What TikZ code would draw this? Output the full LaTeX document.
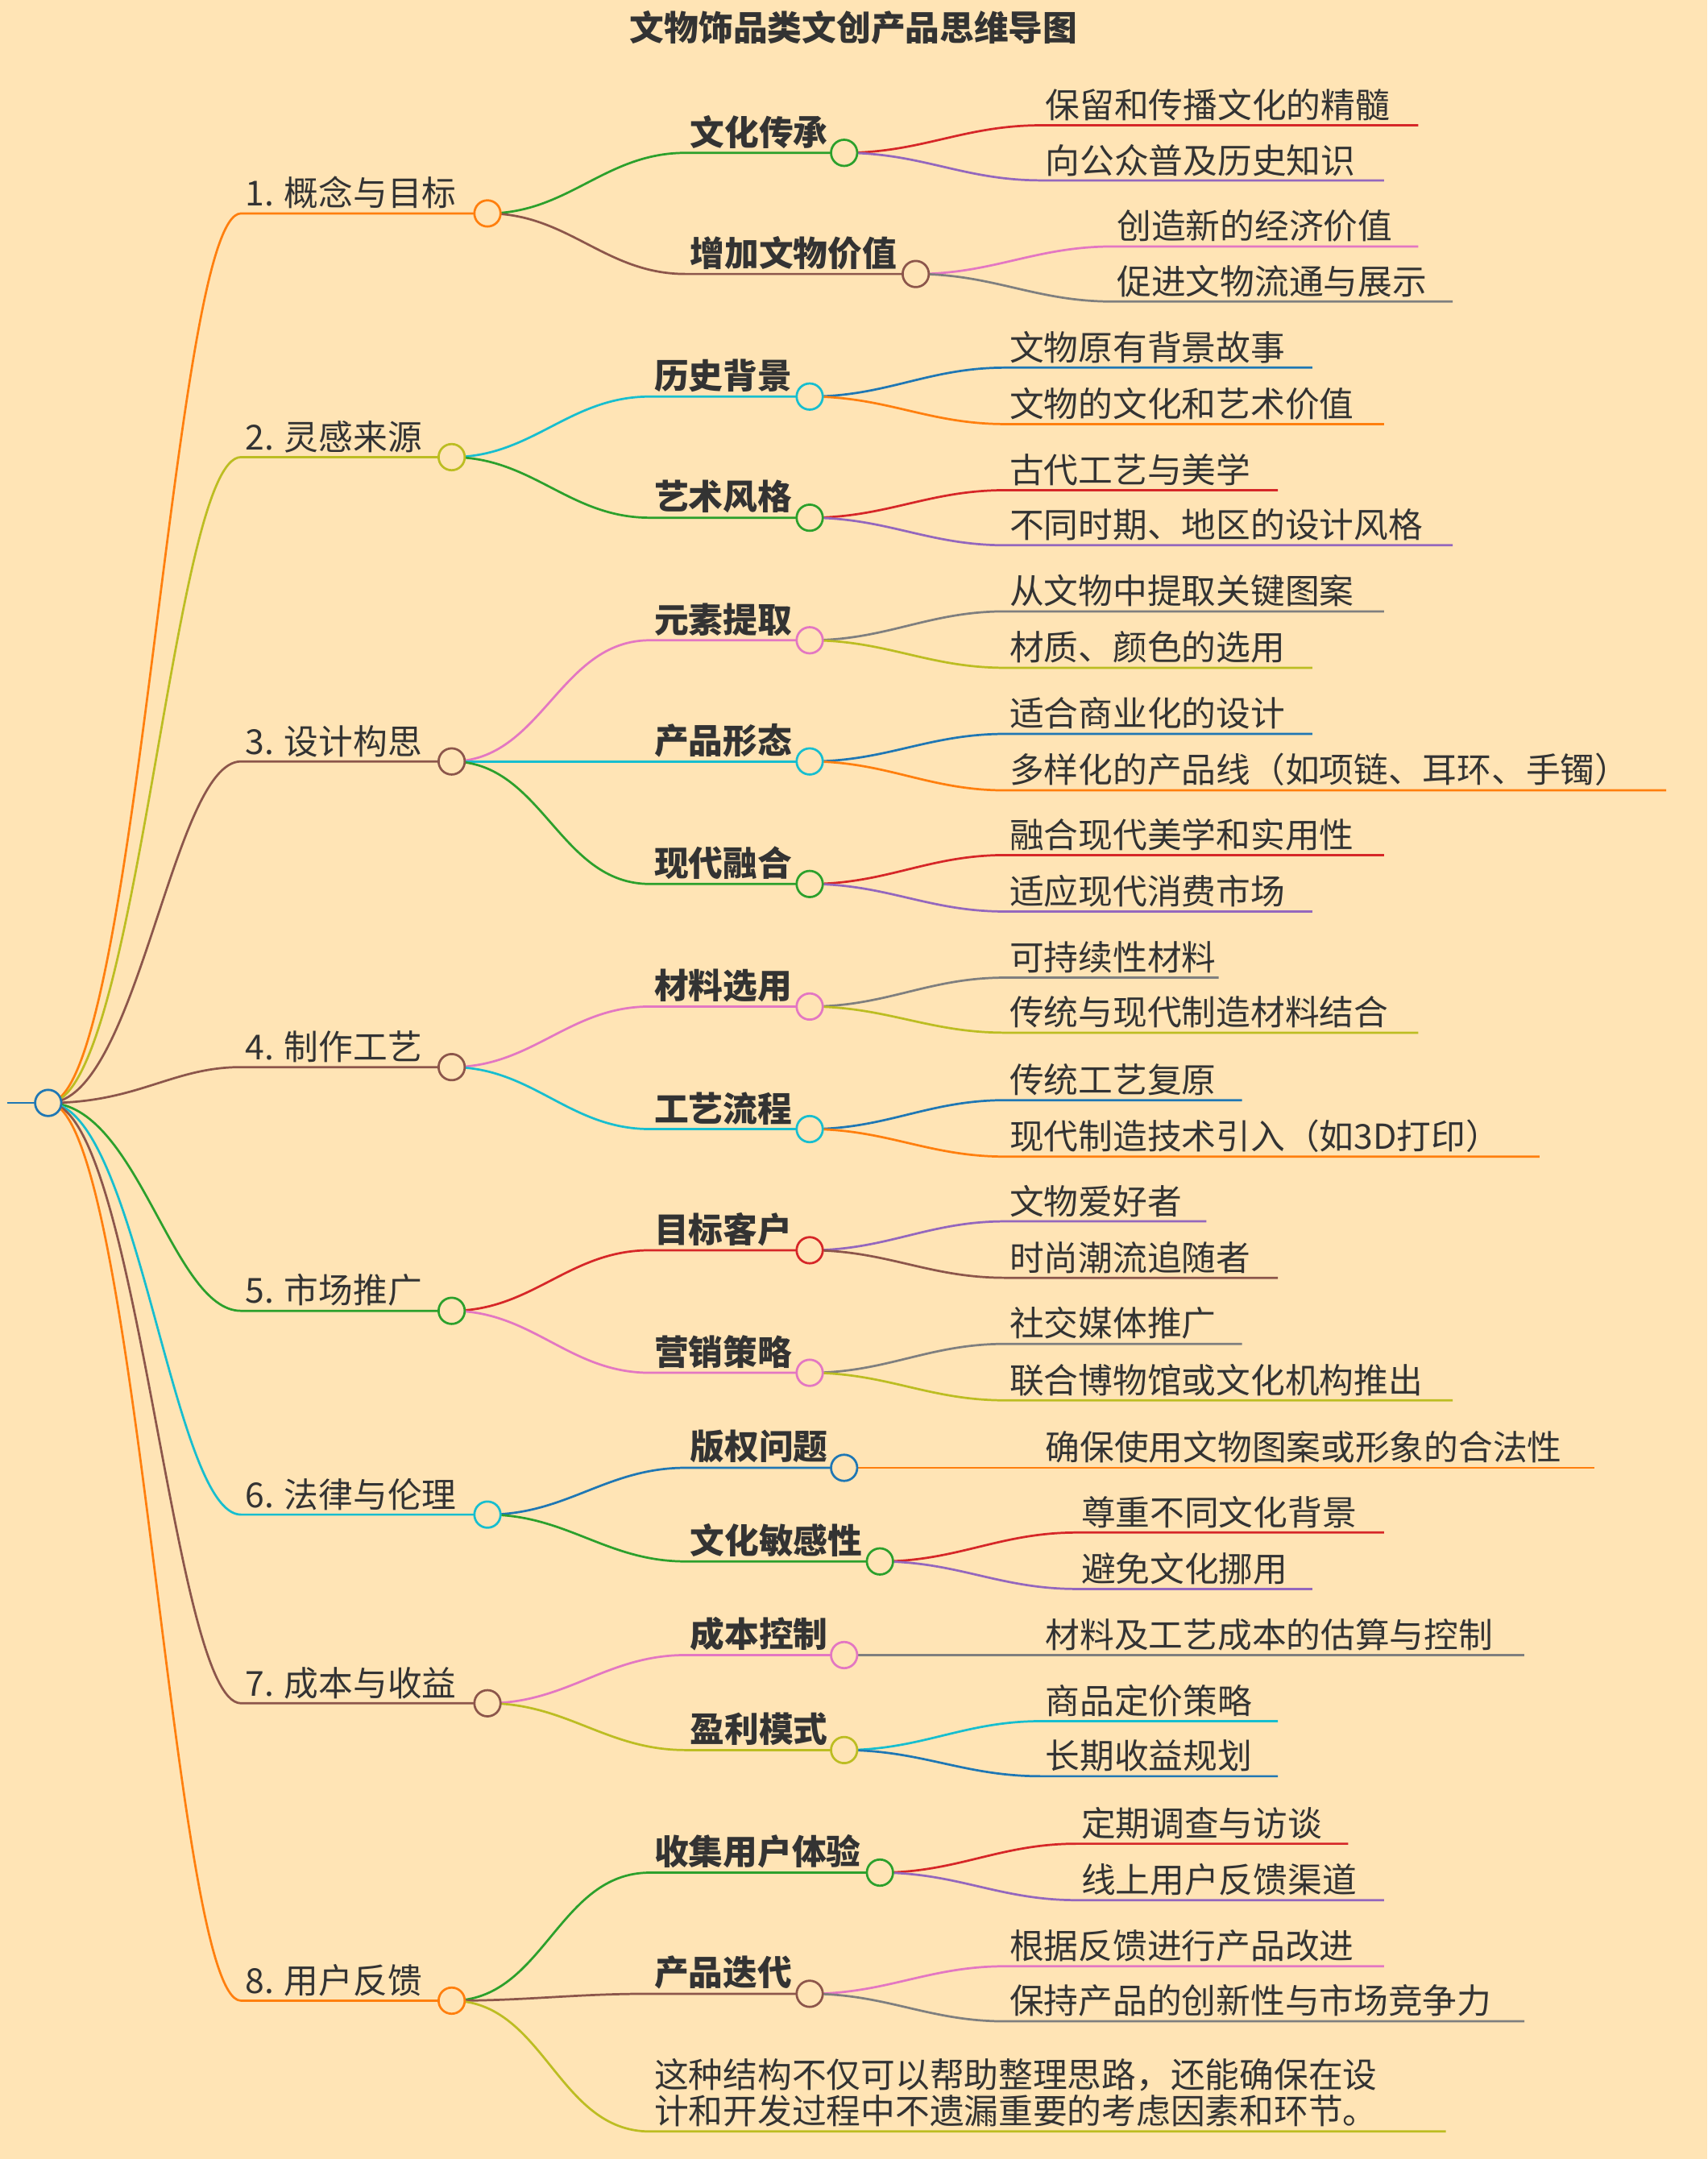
\documentclass[tikz,border=0pt]{standalone}
\usepackage{fontspec}
\setmainfont{Noto Sans CJK SC}
\definecolor{bg}{HTML}{FFE4B5}
\definecolor{txt}{HTML}{333333}
\definecolor{tblue}{HTML}{1F77B4}
\definecolor{torange}{HTML}{FF7F0E}
\definecolor{tgreen}{HTML}{2CA02C}
\definecolor{tred}{HTML}{D62728}
\definecolor{tpurple}{HTML}{9467BD}
\definecolor{tbrown}{HTML}{8C564B}
\definecolor{tpink}{HTML}{E377C2}
\definecolor{tgray}{HTML}{7F7F7F}
\definecolor{tolive}{HTML}{BCBD22}
\definecolor{tcyan}{HTML}{17BECF}
\tikzset{
  link/.style={line width=1.6pt},
  dot/.style={circle,fill=bg,line width=1.6pt,minimum size=19pt,inner sep=0pt},
  toptext/.style={text=txt,font=\fontsize{25}{30}\selectfont,inner sep=3pt,anchor=south west},
  midtext/.style={text=txt,font=\fontsize{25}{30}\selectfont\bfseries,inner sep=3pt,anchor=south west},
  leaftext/.style={text=txt,font=\fontsize{25}{30}\selectfont,inner sep=3pt,anchor=south west}
}
% level 1: name, y, circle x, colour, text
\newcommand\topic[5]{%
  \coordinate (#1) at (#3,#2);
  \coordinate (#1-s) at (175,#2);
  \draw[link,#4] (root) .. controls (100,801) and (125,#2) .. (#1-s) -- (#1);
  \node[toptext] (#1-t) at (#1-s) {#5};}
% level 2: parent, name, start x, y, circle x, colour, text
\newcommand\sub[7]{%
  \coordinate (#2) at (#5,#4);
  \coordinate (#2-s) at (#3,#4);
  \draw[link,#6] (#1) to[out=0,in=180] (#2-s) -- (#2);
  \node[midtext] (#2-t) at (#2-s) {#7};}
% leaves: parent, name, start x, y, end x, colour, text
\newcommand\leaf[7]{%
  \coordinate (#2-s) at (#3,#4);
  \coordinate (#2-e) at (#5,#4);
  \draw[link,#6] (#1) to[out=0,in=180] (#2-s) -- (#2-e);
  \node[leaftext] (#2-t) at (#2-s) {#7};}
\begin{document}
\begin{tikzpicture}[x=1pt,y=-1pt]
\fill[bg] (0,0) rectangle (1240,1568);
\useasboundingbox (0,0) rectangle (1240,1568);
\node[text=txt,font=\fontsize{25}{30}\selectfont\bfseries] (title) at (620,20) {文物饰品类文创产品思维导图};

\coordinate (root) at (35,801);
\coordinate (stub) at (5,801);
\draw[link,tblue] (stub) -- (root);

% main branches
\topic{t1}{155}{354}{torange}{1. 概念与目标}
\topic{t2}{332}{328}{tolive}{2. 灵感来源}
\topic{t3}{553}{328}{tbrown}{3. 设计构思}
\topic{t4}{775}{328}{tbrown}{4. 制作工艺}
\topic{t5}{952}{328}{tgreen}{5. 市场推广}
\topic{t6}{1100}{354}{tcyan}{6. 法律与伦理}
\topic{t7}{1237}{354}{tbrown}{7. 成本与收益}
\topic{t8}{1453}{328}{torange}{8. 用户反馈}

% second level
\sub{t1}{s11}{498}{111}{613}{tgreen}{文化传承}
\sub{t1}{s12}{498}{199}{665}{tbrown}{增加文物价值}
\sub{t2}{s21}{472}{288}{588}{tcyan}{历史背景}
\sub{t2}{s22}{472}{376}{588}{tgreen}{艺术风格}
\sub{t3}{s31}{472}{465}{588}{tpink}{元素提取}
\sub{t3}{s32}{472}{553}{588}{tcyan}{产品形态}
\sub{t3}{s33}{472}{642}{588}{tgreen}{现代融合}
\sub{t4}{s41}{472}{731}{588}{tpink}{材料选用}
\sub{t4}{s42}{472}{820}{588}{tcyan}{工艺流程}
\sub{t5}{s51}{472}{908}{588}{tred}{目标客户}
\sub{t5}{s52}{472}{997}{588}{tpink}{营销策略}
\sub{t6}{s61}{498}{1066}{613}{tblue}{版权问题}
\sub{t6}{s62}{498}{1134}{639}{tgreen}{文化敏感性}
\sub{t7}{s71}{498}{1202}{613}{tpink}{成本控制}
\sub{t7}{s72}{498}{1271}{613}{tolive}{盈利模式}
\sub{t8}{s81}{472}{1360}{639}{tgreen}{收集用户体验}
\sub{t8}{s82}{472}{1448}{588}{tbrown}{产品迭代}

% leaves
\leaf{s11}{l111}{756}{91}{1030}{tred}{保留和传播文化的精髓}
\leaf{s11}{l112}{756}{131}{1005}{tpurple}{向公众普及历史知识}
\leaf{s12}{l121}{808}{179}{1030}{tpink}{创造新的经济价值}
\leaf{s12}{l122}{808}{219}{1055}{tgray}{促进文物流通与展示}
\leaf{s21}{l211}{730}{267}{953}{tblue}{文物原有背景故事}
\leaf{s21}{l212}{730}{308}{1005}{torange}{文物的文化和艺术价值}
\leaf{s22}{l221}{730}{356}{928}{tred}{古代工艺与美学}
\leaf{s22}{l222}{730}{396}{1055}{tpurple}{不同时期、地区的设计风格}
\leaf{s31}{l311}{730}{444}{1005}{tgray}{从文物中提取关键图案}
\leaf{s31}{l312}{730}{485}{953}{tolive}{材质、颜色的选用}
\leaf{s32}{l321}{730}{533}{953}{tblue}{适合商业化的设计}
\leaf{s32}{l322}{730}{574}{1210}{torange}{多样化的产品线（如项链、耳环、手镯）}
\leaf{s33}{l331}{730}{621}{1005}{tred}{融合现代美学和实用性}
\leaf{s33}{l332}{730}{662}{953}{tpurple}{适应现代消费市场}
\leaf{s41}{l411}{730}{710}{885}{tgray}{可持续性材料}
\leaf{s41}{l412}{730}{750}{1030}{tolive}{传统与现代制造材料结合}
\leaf{s42}{l421}{730}{799}{902}{tblue}{传统工艺复原}
\leaf{s42}{l422}{730}{840}{1118}{torange}{现代制造技术引入（如3D打印）}
\leaf{s51}{l511}{730}{887}{876}{tpurple}{文物爱好者}
\leaf{s51}{l512}{730}{928}{928}{tbrown}{时尚潮流追随者}
\leaf{s52}{l521}{730}{976}{902}{tgray}{社交媒体推广}
\leaf{s52}{l522}{730}{1017}{1055}{tolive}{联合博物馆或文化机构推出}
\leaf{s61}{l611}{756}{1066}{1158}{torange}{确保使用文物图案或形象的合法性}
\leaf{s62}{l621}{782}{1113}{1005}{tred}{尊重不同文化背景}
\leaf{s62}{l622}{782}{1154}{953}{tpurple}{避免文化挪用}
\leaf{s71}{l711}{756}{1202}{1107}{tgray}{材料及工艺成本的估算与控制}
\leaf{s72}{l721}{756}{1250}{928}{tcyan}{商品定价策略}
\leaf{s72}{l722}{756}{1290}{928}{tblue}{长期收益规划}
\leaf{s81}{l811}{782}{1339}{979}{tred}{定期调查与访谈}
\leaf{s81}{l812}{782}{1380}{1005}{tpurple}{线上用户反馈渠道}
\leaf{s82}{l821}{730}{1428}{1005}{tpink}{根据反馈进行产品改进}
\leaf{s82}{l822}{730}{1468}{1107}{tgray}{保持产品的创新性与市场竞争力}
\leaf{t8}{l83}{472}{1548}{1050}{tolive}{\shortstack[l]{这种结构不仅可以帮助整理思路，还能确保在设\\计和开发过程中不遗漏重要的考虑因素和环节。}}

% circles on top
\foreach \c/\col in {root/tblue,t1/torange,t2/tolive,t3/tbrown,t4/tbrown,t5/tgreen,
  t6/tcyan,t7/tbrown,t8/torange,s11/tgreen,s12/tbrown,s21/tcyan,s22/tgreen,
  s31/tpink,s32/tcyan,s33/tgreen,s41/tpink,s42/tcyan,s51/tred,s52/tpink,
  s61/tblue,s62/tgreen,s71/tpink,s72/tolive,s81/tgreen,s82/tbrown}
  \node[dot,draw=\col] (\c-dot) at (\c) {};
\end{tikzpicture}
\end{document}
